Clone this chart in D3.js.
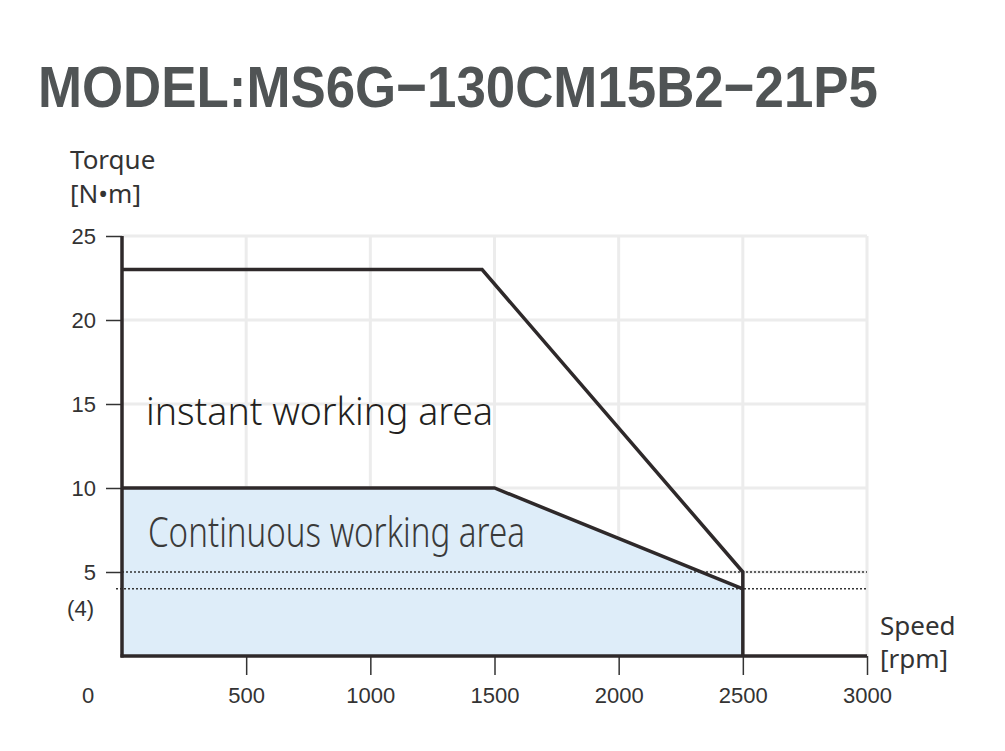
<!DOCTYPE html>
<html>
<head>
<meta charset="utf-8">
<script src="https://cdn.jsdelivr.net/npm/d3@7"></script>
<style>
  html, body { margin: 0; padding: 0; background: #fff; }
</style>
</head>
<body>
<div id="chart"></div>
<script>
const titleText = "MODEL:MS6G\u2212130CM15B2\u221221P5";

const instantSpeed = [0, 1450, 2500, 2500];
const instantTorque = [23, 23, 5, 0];
const contSpeed = [0, 1500, 2500];
const contTorque = [10, 10, 4];
const refTorque = [5, 4];

const xTicks = [500, 1000, 1500, 2000, 2500, 3000];
const yTicks = [5, 10, 15, 20, 25];

const W = 1005, H = 751;
const lineColor = "#2e292a";
const gridColor = "#ececec";
const numFont = "'Liberation Sans', Arial, sans-serif";
const textFont = "'Noto Sans', 'Open Sans', sans-serif";

const svg = d3.select("#chart")
              .append("svg")
              .attr("width", W)
              .attr("height", H);

const x = d3.scaleLinear().domain([0, 3000]).range([122, 867]);
const y = d3.scaleLinear().domain([0, 25]).range([656, 236]);

// Title
svg.append("text")
   .attr("x", 38)
   .attr("y", 107)
   .attr("textLength", 840)
   .attr("lengthAdjust", "spacingAndGlyphs")
   .style("font-family", numFont)
   .style("font-weight", "bold")
   .style("font-size", "58px")
   .attr("fill", "#505455")
   .text(titleText);

// Grid
svg.append("g")
   .selectAll("line")
   .data(xTicks)
   .join("line")
   .attr("x1", d => x(d)).attr("x2", d => x(d))
   .attr("y1", y(0)).attr("y2", y(25))
   .attr("stroke", gridColor)
   .attr("stroke-width", 3);

svg.append("g")
   .selectAll("line")
   .data(yTicks)
   .join("line")
   .attr("x1", x(0)).attr("x2", x(3000))
   .attr("y1", d => y(d)).attr("y2", d => y(d))
   .attr("stroke", gridColor)
   .attr("stroke-width", 3);

// Continuous area fill
const contPoints = contSpeed.map((s, i) => [s, contTorque[i]]);
svg.append("path")
   .datum(contPoints)
   .attr("fill", "#deedf9")
   .attr("d", d3.area().x(d => x(d[0])).y0(y(0)).y1(d => y(d[1])));

// Reference dotted lines
svg.append("g")
   .selectAll("line")
   .data(refTorque)
   .join("line")
   .attr("x1", (d, i) => x(0) - (i === 1 ? 6 : 0))
   .attr("x2", x(3000))
   .attr("y1", d => y(d)).attr("y2", d => y(d))
   .attr("stroke", "#333")
   .attr("stroke-width", 1.5)
   .attr("stroke-dasharray", "2,2");

// X axis
svg.append("g")
   .attr("transform", `translate(0, ${y(0)})`)
   .call(d3.axisBottom(x).tickValues(xTicks).tickFormat(d3.format("d"))
           .tickSize(19).tickSizeOuter(0).tickPadding(12))
   .call(g => {
        g.select(".domain").remove();
        g.selectAll("line").attr("stroke", "#333").attr("stroke-width", 1.5);
        g.selectAll("text").attr("fill", "#333");
   })
   .style("font-family", numFont)
   .style("font-size", "22px");

// Y axis
svg.append("g")
   .attr("transform", `translate(${x(0)}, 0)`)
   .call(d3.axisLeft(y).tickValues(yTicks).tickSize(16).tickSizeOuter(0).tickPadding(10))
   .call(g => {
        g.select(".domain").remove();
        g.selectAll("line").attr("stroke", "#333").attr("stroke-width", 1.5);
        g.selectAll("text").attr("fill", "#333");
   })
   .style("font-family", numFont)
   .style("font-size", "22px");

// Origin and (4) labels
svg.append("text")
   .attr("x", 88).attr("y", 703)
   .attr("text-anchor", "middle")
   .style("font-family", numFont).style("font-size", "22px")
   .attr("fill", "#333")
   .text("0");

svg.append("text")
   .attr("x", 94).attr("y", y(4) + 27)
   .attr("text-anchor", "end")
   .style("font-family", numFont).style("font-size", "22px")
   .attr("fill", "#333")
   .text(`(${refTorque[1]})`);

// Axis lines
svg.append("line")
   .attr("x1", x(0)).attr("x2", x(0))
   .attr("y1", y(25)).attr("y2", y(0) + 1.5)
   .attr("stroke", lineColor).attr("stroke-width", 3.5);

svg.append("line")
   .attr("x1", x(0) - 1.5).attr("x2", x(3000))
   .attr("y1", y(0)).attr("y2", y(0))
   .attr("stroke", lineColor).attr("stroke-width", 3.5);

// Curves
const line = d3.line().x(d => x(d[0])).y(d => y(d[1]));

svg.append("path")
   .datum(instantSpeed.map((s, i) => [s, instantTorque[i]]))
   .attr("fill", "none")
   .attr("stroke", lineColor)
   .attr("stroke-width", 3.5)
   .attr("d", line);

svg.append("path")
   .datum(contPoints)
   .attr("fill", "none")
   .attr("stroke", lineColor)
   .attr("stroke-width", 3.5)
   .attr("d", line);

// Axis titles
const axisTitle = (tx, ty, str) => svg.append("text")
   .attr("x", tx).attr("y", ty)
   .style("font-family", textFont).style("font-size", "26px")
   .attr("fill", "#333")
   .text(str);

axisTitle(70, 169, "Torque");
axisTitle(70, 203, "[N\u2022m]");
axisTitle(880, 635, "Speed");
axisTitle(880, 668, "[rpm]");

// Area labels
svg.append("text")
   .attr("x", 146).attr("y", 425)
   .attr("textLength", 347)
   .attr("lengthAdjust", "spacingAndGlyphs")
   .style("font-family", textFont).style("font-size", "38px").style("font-weight", 300)
   .attr("fill", "#231f20")
   .text("instant working area");

svg.append("text")
   .attr("x", 148).attr("y", 547)
   .attr("textLength", 377)
   .attr("lengthAdjust", "spacingAndGlyphs")
   .style("font-family", textFont).style("font-size", "43px").style("font-weight", 300)
   .attr("fill", "#3a3a3a")
   .text("Continuous working area");
</script>
</body>
</html>
